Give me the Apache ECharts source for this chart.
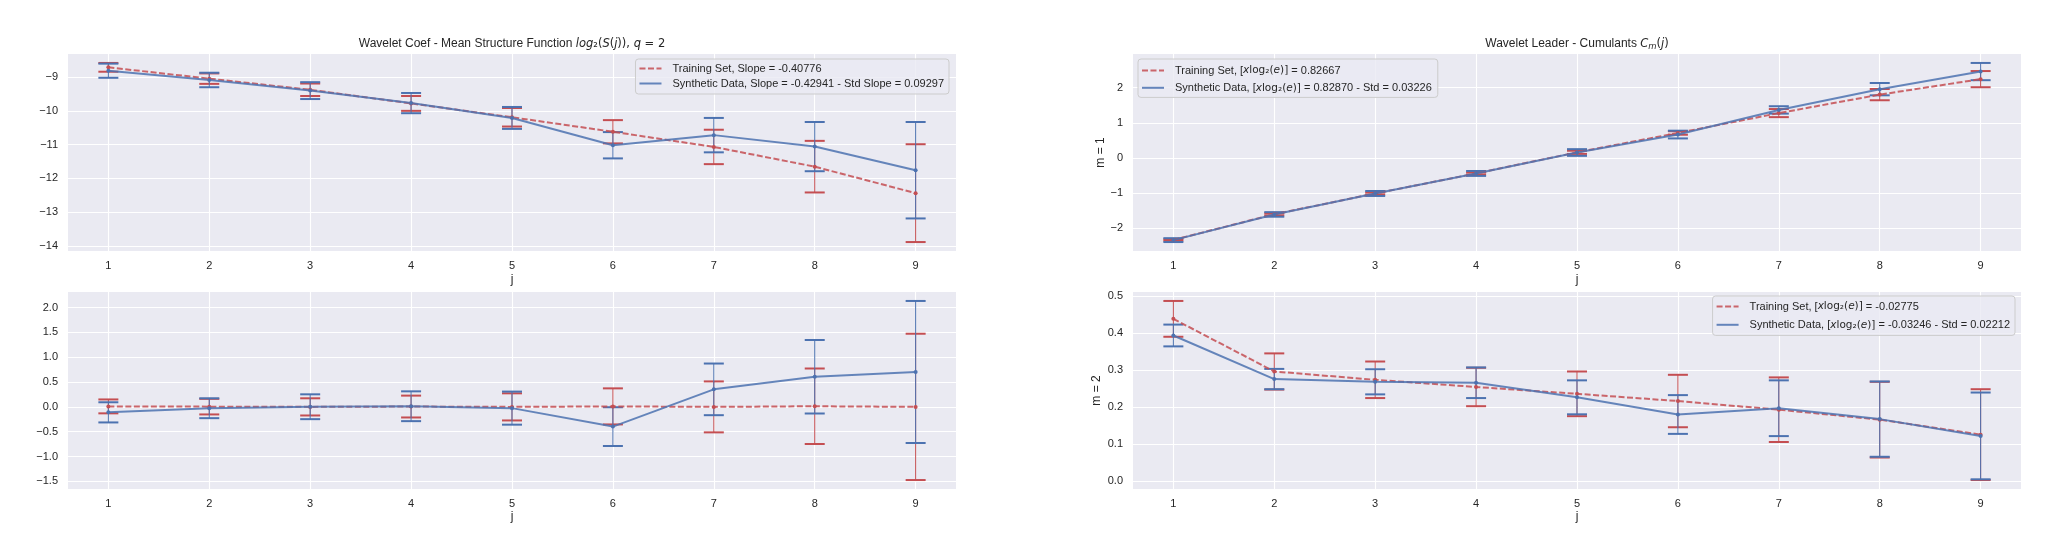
<!DOCTYPE html>
<html lang="en">
<head>
<meta charset="UTF-8">
<title>Wavelet statistics</title>
<script src="https://cdn.jsdelivr.net/npm/echarts@6/dist/echarts.min.js"></script>
<style>html,body{margin:0;padding:0;background:#fff;}</style>
</head>
<body>
<div id="myChart" style="width:2056px;height:558px;"></div>
<script>
// scales j
var scales = [1, 2, 3, 4, 5, 6, 7, 8, 9];

// top left: mean structure function log2(S(j)), q = 2
var trainSF = [-8.71, -9.045, -9.375, -9.78, -10.19, -10.62, -11.07, -11.655, -12.44];
var trainSFStd = [0.13, 0.155, 0.185, 0.22, 0.275, 0.345, 0.51, 0.765, 1.45];
var synthSF = [-8.81, -9.085, -9.40, -9.77, -10.21, -11.02, -10.72, -11.06, -11.76];
var synthSFStd = [0.21, 0.215, 0.25, 0.30, 0.325, 0.39, 0.51, 0.73, 1.43];

// bottom left: same, minus the training fit
var trainRes = [0.01, 0.005, 0.0, 0.007, 0.0, 0.01, 0.0, 0.013, 0.0];
var trainResStd = [0.14, 0.157, 0.173, 0.22, 0.273, 0.363, 0.513, 0.76, 1.473];
var synthRes = [-0.11, -0.027, 0.003, 0.013, -0.025, -0.397, 0.353, 0.607, 0.703];
var synthResStd = [0.203, 0.2, 0.25, 0.30, 0.333, 0.39, 0.52, 0.74, 1.43];

// top right: cumulant m = 1
var trainC1 = [-2.33, -1.60, -1.01, -0.44, 0.16, 0.71, 1.275, 1.80, 2.24];
var trainC1Std = [0.02, 0.03, 0.03, 0.03, 0.045, 0.05, 0.115, 0.16, 0.23];
var synthC1 = [-2.335, -1.605, -1.01, -0.44, 0.155, 0.665, 1.365, 1.955, 2.455];
var synthC1Std = [0.055, 0.065, 0.07, 0.07, 0.095, 0.11, 0.105, 0.175, 0.245];

// bottom right: cumulant m = 2
var trainC2 = [0.4385, 0.296, 0.2735, 0.254, 0.2355, 0.216, 0.1925, 0.1655, 0.125];
var trainC2Std = [0.0485, 0.049, 0.0495, 0.052, 0.0605, 0.071, 0.0875, 0.1025, 0.123];
var synthC2 = [0.3935, 0.2755, 0.268, 0.2655, 0.226, 0.1795, 0.1965, 0.167, 0.1215];
var synthC2Std = [0.0295, 0.0275, 0.034, 0.0415, 0.046, 0.0525, 0.0755, 0.102, 0.1175];

// tick labels
var xTicks = [1, 2, 3, 4, 5, 6, 7, 8, 9];
var sfTicks = [-14, -13, -12, -11, -10, -9];
var resTicks = [-1.5, -1.0, -0.5, 0.0, 0.5, 1.0, 1.5, 2.0];
var c1Ticks = [-2, -1, 0, 1, 2];
var c2Ticks = [0.0, 0.1, 0.2, 0.3, 0.4, 0.5];

// legend names
var namesSF = ['Training Set, Slope = -0.40776', 'Synthetic Data, Slope = -0.42941 - Std Slope = 0.09297'];
var namesRes = ['Training Set (residual)', 'Synthetic Data (residual)'];
var namesC1 = ['Training Set, [xlog₂(e)] = 0.82667', 'Synthetic Data, [xlog₂(e)] = 0.82870 - Std = 0.03226'];
var namesC2 = ['Training Set, [xlog₂(e)] = -0.02775', 'Synthetic Data, [xlog₂(e)] = -0.03246 - Std = 0.02212'];

var RED = '#C44E52', BLUE = '#4C72B0', TXT = '#262626';
var FONT = '"Liberation Sans", Arial, sans-serif';
var MATH = '"DejaVu Sans", sans-serif';

var grids = [
    {left: 68, top: 54, width: 888, height: 197},
    {left: 68, top: 292, width: 888, height: 197},
    {left: 1133, top: 54, width: 888, height: 197},
    {left: 1133, top: 292, width: 888, height: 197}
];

function minus(s) { return String(s).replace('-', '\u2212'); }
function fmtInt(v) { return minus(Math.round(v)); }
function fmt1(v) { return minus(v.toFixed(1)); }

function pad(v) { return v.min - 0.05 * (v.max - v.min); }
function padMax(v) { return v.max + 0.05 * (v.max - v.min); }

function makeX(i, gap) {
    return {
        type: 'value', gridIndex: i, min: pad, max: padMax,
        name: 'j', nameLocation: 'middle', nameGap: gap,
        nameTextStyle: {fontFamily: FONT, fontSize: 12, color: TXT},
        axisLine: {show: false},
        axisTick: {show: false, customValues: xTicks},
        axisLabel: {customValues: xTicks, margin: 9, fontFamily: FONT, fontSize: 11, color: TXT},
        splitLine: {show: true, lineStyle: {color: '#ffffff', width: 1.1}}
    };
}
function makeY(i, ticks, f, name, gap) {
    var ax = {
        type: 'value', gridIndex: i, min: pad, max: padMax,
        axisLine: {show: false},
        axisTick: {show: false, customValues: ticks},
        axisLabel: {customValues: ticks, formatter: f, margin: 10, fontFamily: FONT, fontSize: 11, color: TXT},
        splitLine: {show: true, lineStyle: {color: '#ffffff', width: 1.1}}
    };
    if (name) {
        ax.name = name; ax.nameLocation = 'middle'; ax.nameGap = gap;
        ax.nameTextStyle = {fontFamily: FONT, fontSize: 12, color: TXT};
    }
    return ax;
}

function errorBar(color) {
    return function (params, api) {
        var x = api.value(0);
        var lo = api.coord([x, api.value(1)]);
        var hi = api.coord([x, api.value(2)]);
        var w = 10;
        return {
            type: 'group',
            children: [
                {type: 'line', shape: {x1: lo[0], y1: lo[1], x2: hi[0], y2: hi[1]}, style: {stroke: color, lineWidth: 1}},
                {type: 'line', shape: {x1: lo[0] - w, y1: lo[1], x2: lo[0] + w, y2: lo[1]}, style: {stroke: color, lineWidth: 2}},
                {type: 'line', shape: {x1: hi[0] - w, y1: hi[1], x2: hi[0] + w, y2: hi[1]}, style: {stroke: color, lineWidth: 2}}
            ]
        };
    };
}

function pairs(ys) { return scales.map(function (x, k) { return [x, ys[k]]; }); }
function bars(ys, sd) { return scales.map(function (x, k) { return [x, ys[k] - sd[k], ys[k] + sd[k]]; }); }

function panel(i, names, train, trainSd, synth, synthSd) {
    return [
        {type: 'custom', name: names[0] + ' err', xAxisIndex: i, yAxisIndex: i, renderItem: errorBar(RED),
            encode: {x: 0, y: [1, 2]}, data: bars(train, trainSd), silent: true},
        {type: 'line', name: names[0], xAxisIndex: i, yAxisIndex: i, data: pairs(train),
            symbol: 'circle', symbolSize: 4, itemStyle: {color: RED},
            lineStyle: {color: RED, width: 2, type: [6, 2.5], opacity: 0.85}},
        {type: 'custom', name: names[1] + ' err', xAxisIndex: i, yAxisIndex: i, renderItem: errorBar(BLUE),
            encode: {x: 0, y: [1, 2]}, data: bars(synth, synthSd), silent: true},
        {type: 'line', name: names[1], xAxisIndex: i, yAxisIndex: i, data: pairs(synth),
            symbol: 'circle', symbolSize: 4, itemStyle: {color: BLUE},
            lineStyle: {color: BLUE, width: 2, opacity: 0.85}}
    ];
}

function mathLabel(name) {
    var s = name.replace('[xlog₂(e)]', '[}{i|x}{m|log₂(}{i|e}{m|)]}{t|');
    return '{g| }{t|' + s + '}';
}

function legendBox(names, pos, itemH, gap, padding) {
    var lg = {
        data: names, orient: 'vertical', top: pos.top,
        itemWidth: 22, itemHeight: itemH, itemGap: gap, padding: padding,
        backgroundColor: 'rgba(234,234,242,0.8)', borderColor: '#cccccc', borderWidth: 1, borderRadius: 3,
        itemStyle: {opacity: 0},
        formatter: mathLabel,
        textStyle: {
            color: TXT, fontFamily: FONT, fontSize: 11,
            rich: {
                g: {fontFamily: FONT, fontSize: 11, width: 6},
                t: {fontFamily: FONT, fontSize: 11, color: TXT},
                m: {fontFamily: MATH, fontSize: 10.5, color: TXT},
                i: {fontFamily: MATH, fontSize: 10.5, fontStyle: 'italic', color: TXT}
            }
        }
    };
    if (pos.left != null) lg.left = pos.left; else lg.right = pos.right;
    return lg;
}

function centerX(g) { return g.left + g.width / 2; }

var myChart = echarts.init(document.getElementById('myChart'), null, {renderer: 'canvas'});

var option = {
    animation: false,
    backgroundColor: '#ffffff',
    grid: grids.map(function (g) {
        return {left: g.left, top: g.top, width: g.width, height: g.height, show: true,
            backgroundColor: '#EAEAF2', borderWidth: 0};
    }),
    xAxis: [makeX(0, 22.5), makeX(1, 22), makeX(2, 22.5), makeX(3, 22)],
    yAxis: [
        makeY(0, sfTicks, fmtInt),
        makeY(1, resTicks, fmt1),
        makeY(2, c1Ticks, fmtInt, 'm = 1', 25),
        makeY(3, c2Ticks, fmt1, 'm = 2', 30)
    ],
    legend: [
        legendBox(namesSF, {right: 2056 - 949, top: 59}, 11, 4, [4, 5, 5, 3]),
        legendBox(namesC1, {left: 1138, top: 59}, 14, 6, [6, 6, 4, 3]),
        legendBox(namesC2, {right: 2056 - 2015, top: 296}, 14, 7, [5, 5, 5, 3])
    ],
    graphic: [
        {type: 'text', x: centerX(grids[0]), y: 44, style: {
            text: '{n|Wavelet Coef - Mean Structure Function }{i|log}{m|₂(}{i|S}{m|(}{i|j}{m|)), }{i|q}{m| = 2}',
            align: 'center', verticalAlign: 'middle',
            rich: {
                n: {fontFamily: FONT, fontSize: 12, fill: TXT},
                m: {fontFamily: MATH, fontSize: 11.5, fill: TXT},
                i: {fontFamily: MATH, fontSize: 11.5, fontStyle: 'italic', fill: TXT}
            }
        }},
        {type: 'text', x: centerX(grids[2]), y: 44, style: {
            text: '{n|Wavelet Leader - Cumulants }{i|C}{s|m}{m|(}{i|j}{m|)}',
            align: 'center', verticalAlign: 'middle',
            rich: {
                n: {fontFamily: FONT, fontSize: 12, fill: TXT},
                m: {fontFamily: MATH, fontSize: 11.5, fill: TXT},
                i: {fontFamily: MATH, fontSize: 11.5, fontStyle: 'italic', fill: TXT},
                s: {fontFamily: MATH, fontSize: 8.5, fontStyle: 'italic', fill: TXT, padding: [5, 0, 0, 0]}
            }
        }}
    ],
    series: [].concat(
        panel(0, namesSF, trainSF, trainSFStd, synthSF, synthSFStd),
        panel(1, namesRes, trainRes, trainResStd, synthRes, synthResStd),
        panel(2, namesC1, trainC1, trainC1Std, synthC1, synthC1Std),
        panel(3, namesC2, trainC2, trainC2Std, synthC2, synthC2Std)
    )
};

myChart.setOption(option);
</script>
</body>
</html>
